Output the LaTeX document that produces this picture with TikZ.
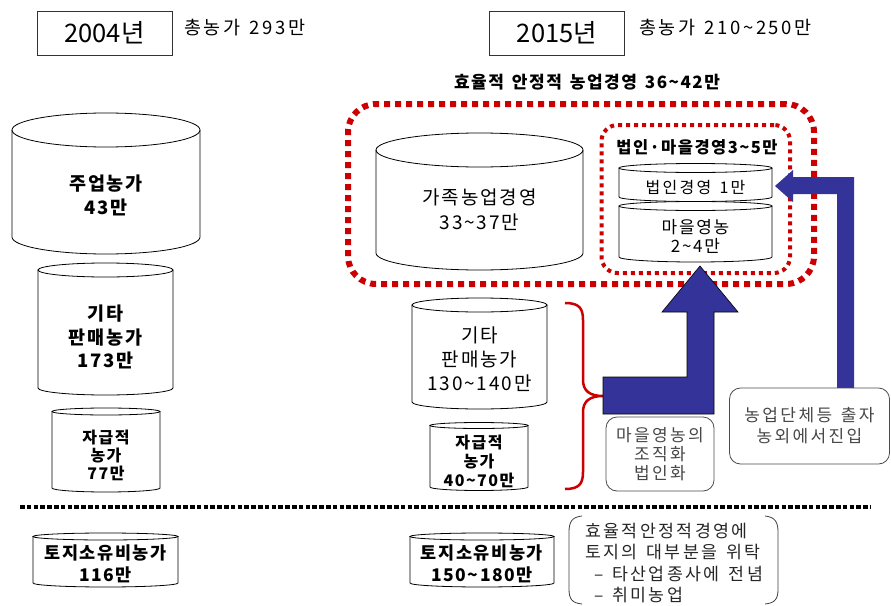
\documentclass[tikz,border=0pt]{standalone}
\usepackage{fontspec}
\setmainfont{Noto Sans CJK KR}[LetterSpace=14]
\newfontfamily\krb{Noto Sans CJK KR}[LetterSpace=9]
\newfontfamily\krm{Noto Sans CJK KR}[LetterSpace=10]
\newfontfamily\krn{Noto Sans CJK KR}
\definecolor{dred}{RGB}{204,0,0}
\definecolor{navy}{RGB}{51,51,153}
\newcommand\tld{\textasciitilde}
\newcommand\wsp{\ \hspace{2.5pt}}
% cylinder: #1 cx, #2 top ellipse centre y, #3 bottom ellipse centre y, #4 rx, #5 ry top, #6 ry bottom (image y, positive down)
\newcommand\mydrum[6]{%
  \fill[white] ({#1-#4},{-#2}) -- ({#1-#4},{-#3}) arc[start angle=180,end angle=360,x radius=#4,y radius=#6] -- ({#1+#4},{-#2}) arc[start angle=0,end angle=180,x radius=#4,y radius=#5] -- cycle;
  \draw[cylline] ({#1-#4},{-#2}) -- ({#1-#4},{-#3}) arc[start angle=180,end angle=360,x radius=#4,y radius=#6] -- ({#1+#4},{-#2});
  \draw[cylline] (#1,{-#2}) ellipse[x radius=#4,y radius=#5];
}
\tikzset{
  cylline/.style={draw=black, line width=0.8pt},
  txt/.style={inner sep=0pt, align=center, text=black},
  yearbox/.style={draw=black!80, line width=0.8pt, minimum width=135pt, minimum height=44pt, inner sep=0pt, font=\krn\fontsize{25.5}{28}\selectfont},
  outerdots/.style={draw=dred, line width=6pt, dash pattern=on 6pt off 5pt, rounded corners=28pt, inner sep=0pt},
  innerdots/.style={draw=dred, line width=4pt, dash pattern=on 4pt off 4pt, rounded corners=16pt, inner sep=0pt},
  divider/.style={draw=black, line width=4.5pt, dash pattern=on 4.5pt off 2.3pt},
  graybox/.style={draw=black!70, line width=0.8pt, rounded corners=11pt, fill=white, inner sep=0pt, align=center, text=black!72},
  bracketline/.style={draw=black!75, line width=0.8pt},
  bracebrace/.style={draw=dred, line width=2.5pt},
  blueshape/.style={fill=navy},
}
\begin{document}
\begin{tikzpicture}[x=1pt,y=1pt]
\fill[white] (0,0) rectangle (891,-605);
\useasboundingbox (0,0) rectangle (891,-605);

% headers
\node[yearbox] (y2004) at (104.5,-33) {2004년};
\node[txt, anchor=west, font=\fontsize{18.5}{22}\selectfont] (tot2004) at (184,-28) {총농가\wsp 293만};
\node[yearbox] (y2015) at (557,-33) {2015년};
\node[txt, anchor=west, font=\fontsize{18.5}{22}\selectfont] (tot2015) at (639,-28) {총농가\wsp 210\tld250만};
\node[txt, font=\krb\fontsize{17}{20}\selectfont\bfseries] (efftitle) at (587,-82) {효율적\wsp 안정적\wsp 농업경영\wsp 36\tld42만};

% 2004 cylinders
\mydrum{106}{130}{237}{94}{17}{17}
\node[txt, font=\krb\fontsize{18.5}{24}\selectfont\bfseries] (jueop) at (106,-195) {주업농가\\43만};
\mydrum{105.5}{270}{388}{67.5}{7}{7}
\node[txt, font=\krb\fontsize{18.5}{23.5}\selectfont\bfseries] (gita04) at (105.5,-337) {기타\\판매농가\\173만};
\mydrum{106}{411.5}{488}{54}{3.5}{4}
\node[txt, font=\krb\fontsize{16}{18}\selectfont\bfseries] (jagup04) at (106,-455) {자급적\\농가\\77만};
\mydrum{105.5}{536.5}{583}{72.5}{3.5}{4}
\node[txt, font=\krb\fontsize{17.5}{22}\selectfont\bfseries] (toji04) at (105.5,-564) {토지소유비농가\\116만};

% 2015 cylinders
\mydrum{479.5}{150}{253}{103.5}{17}{17}
\node[txt, font=\krm\fontsize{19}{25}\selectfont] (gajok) at (479.5,-210) {가족농업경영\\33\tld37만};
\mydrum{479.5}{305}{402}{67.5}{7}{7}
\node[txt, font=\krm\fontsize{19}{24}\selectfont] (gita15) at (479.5,-359) {기타\\판매농가\\130\tld140만};
\mydrum{479}{425.5}{487}{49}{3}{3.5}
\node[txt, font=\krb\fontsize{16}{19}\selectfont\bfseries] (jagup15) at (479,-461) {자급적\\농가\\40\tld70만};
\mydrum{482}{536.5}{583}{72}{3.5}{4}
\node[txt, font=\krb\fontsize{17.5}{22}\selectfont\bfseries] (toji15) at (482,-564) {토지소유비농가\\150\tld180만};

% corporate / village cylinders
\mydrum{695.5}{206}{257}{76.5}{4.5}{5}
\mydrum{695.5}{168}{197}{76.5}{4.5}{4.5}
\node[txt, font=\fontsize{16}{20}\selectfont] (beopin) at (695.5,-187) {법인경영\wsp 1만};
\node[txt, font=\krm\fontsize{17}{19}\selectfont] (maeul) at (695.5,-236) {마을영농\\2\tld4만};

% dotted groups
\node[outerdots, minimum width=466pt, minimum height=180pt] (effbox) at (581,-194) {};
\node[innerdots, minimum width=188.5pt, minimum height=148pt] (corpbox) at (695.75,-199) {};
\node[txt, font=\krb\fontsize{16.5}{20}\selectfont\bfseries] (corplabel) at (697,-147) {법인·마을경영3\tld5만};

% red brace
\coordinate (bracetip) at (603,-396);
\draw[bracebrace] (565,-303) .. controls (579,-303) and (583,-308) .. (583,-320) -- (583,-380)
  .. controls (583,-391) and (590,-396) .. (bracetip)
  .. controls (590,-396) and (583,-401) .. (583,-412) -- (583,-472)
  .. controls (583,-484) and (579,-489) .. (565,-489);

% up arrow (bent)
\draw[blueshape, draw=black, line width=0.6pt] (bracetip |- 0,-377) -- (687,-377) -- (687,-312) -- (662,-312) -- (700,-266) -- (738,-312) -- (714,-312) -- (714,-414) -- (bracetip |- 0,-414) -- cycle;

% entry arrow
\fill[blueshape] (854,-388) -- (854,-177) -- (793,-177) -- (793,-170) -- (775,-186) -- (793,-202) -- (793,-194) -- (837,-194) -- (837,-388) -- cycle;

% gray boxes
\node[graybox, minimum width=108pt, minimum height=74pt, font=\fontsize{17}{19}\selectfont] (orgbox) at (660,-454) {마을영농의\\조직화\\법인화};
\node[graybox, minimum width=160pt, minimum height=76pt, font=\fontsize{17}{21}\selectfont] (entrybox) at (809.5,-426) {농업단체등\wsp 출자\\농외에서진입};

% divider
\coordinate (divl) at (20,-507);
\coordinate (divr) at (871,-507);
\draw[divider] (divl) -- (divr);

% bracket note
\draw[bracketline] (582,-516) .. controls (572,-517) and (569,-522) .. (569,-532) -- (569,-589) .. controls (569,-599) and (572,-603) .. (582,-604);
\draw[bracketline] (765,-516) .. controls (775,-517) and (778,-522) .. (778,-532) -- (778,-589) .. controls (778,-599) and (775,-603) .. (765,-604);
\node[txt, anchor=west, align=left, text=black!85, font=\fontsize{17.3}{21.3}\selectfont] (note) at (585,-563) {효율적안정적경영에\\토지의\wsp 대부분을\wsp 위탁\\\hspace*{9pt}–\wsp 타산업종사에\wsp 전념\\\hspace*{9pt}–\wsp 취미농업};
\end{tikzpicture}
\end{document}
